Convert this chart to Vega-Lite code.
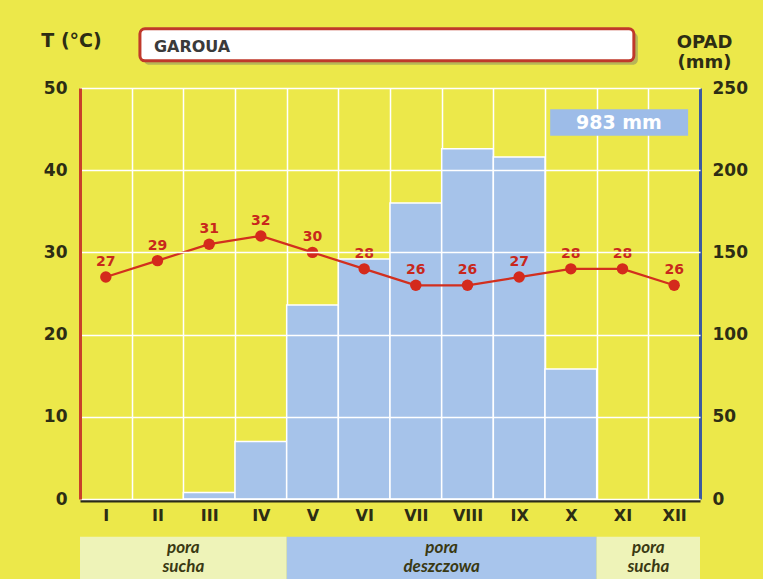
{
  "$schema": "https://vega.github.io/schema/vega-lite/v6.json",
  "width": 620,
  "height": 411,
  "autosize": {"type": "none"},
  "padding": {"left": 80, "top": 88, "right": 63, "bottom": 80},
  "background": "#ece84a",
  "config": {
    "view": {"stroke": null},
    "scale": {"bandPaddingInner": 0, "bandPaddingOuter": 0},
    "axis": {"labelFont": "DejaVu Sans", "labelFontWeight": "bold", "labelColor": "#2d2d14", "titleFont": "DejaVu Sans", "titleFontWeight": "bold", "titleColor": "#2d2d14", "ticks": false}
  },
  "datasets": {
    "months": [
      {"m": "I", "t": 27, "p": 0},
      {"m": "II", "t": 29, "p": 0},
      {"m": "III", "t": 31, "p": 4},
      {"m": "IV", "t": 32, "p": 35},
      {"m": "V", "t": 30, "p": 118},
      {"m": "VI", "t": 28, "p": 146},
      {"m": "VII", "t": 26, "p": 180},
      {"m": "VIII", "t": 26, "p": 213},
      {"m": "IX", "t": 27, "p": 208},
      {"m": "X", "t": 28, "p": 79},
      {"m": "XI", "t": 28, "p": 0},
      {"m": "XII", "t": 26, "p": 0}
    ],
    "notes": [{"station": "GAROUA", "total": "983 mm"}],
    "seasons": [
      {"from": "I", "to": "IV", "mid": "III", "kind": "sucha", "label": "pora\nsucha"},
      {"from": "V", "to": "X", "mid": "VIII", "kind": "deszczowa", "label": "pora\ndeszczowa"},
      {"from": "XI", "to": "XII", "mid": "XII", "kind": "sucha", "label": "pora\nsucha"}
    ]
  },
  "layer": [
    {
      "data": {"name": "months"},
      "transform": [{"filter": "datum.p > 0"}],
      "mark": {"type": "bar", "fill": "#a6c3ea", "stroke": "white", "strokeWidth": 1.5},
      "encoding": {
        "x": {"field": "m", "type": "nominal", "title": null,
          "scale": {"domain": ["I","II","III","IV","V","VI","VII","VIII","IX","X","XI","XII"]},
          "axis": {"orient": "bottom", "labelAngle": 0, "labelFontSize": 16, "labelPadding": 7, "tickBand": "extent", "grid": true, "gridColor": "white", "gridWidth": 1.5, "domainColor": "#2a2a18", "domainWidth": 3, "offset": 1.5, "zindex": 0}},
        "y": {"field": "p", "type": "quantitative",
          "scale": {"domain": [0, 250], "nice": false},
          "axis": {"orient": "right", "values": [0, 50, 100, 150, 200, 250], "grid": false, "domainColor": "#3c5aa0", "domainWidth": 3, "labelFontSize": 17, "labelPadding": 12, "title": ["OPAD", "(mm)"], "titleAngle": 0, "titleAlign": "center", "titleBaseline": "middle", "titleX": 4, "titleY": -46, "titleFontSize": 18, "titleLineHeight": 20}}
      }
    },
    {
      "layer": [
        {
          "data": {"name": "months"},
          "mark": {"type": "line", "color": "#d22f1e", "strokeWidth": 2.2},
          "encoding": {
            "x": {"field": "m", "type": "nominal", "title": null},
            "y": {"field": "t", "type": "quantitative",
              "scale": {"domain": [0, 50], "nice": false},
              "axis": {"orient": "left", "values": [0, 10, 20, 30, 40, 50], "grid": true, "gridColor": "white", "gridWidth": 1.5, "zindex": 1, "domainColor": "#c8402a", "domainWidth": 3, "labelFontSize": 17, "labelPadding": 13, "title": "T (°C)", "titleAngle": 0, "titleAlign": "center", "titleBaseline": "middle", "titleX": -9, "titleY": -48, "titleFontSize": 19}}
          }
        },
        {
          "data": {"name": "months"},
          "mark": {"type": "point", "filled": true, "size": 130, "color": "#d42a1c", "opacity": 1},
          "encoding": {
            "x": {"field": "m", "type": "nominal", "title": null},
            "y": {"field": "t", "type": "quantitative"}
          }
        },
        {
          "data": {"name": "months"},
          "mark": {"type": "text", "dy": -15, "color": "#c8281c", "font": "DejaVu Sans", "fontWeight": "bold", "fontSize": 14},
          "encoding": {
            "x": {"field": "m", "type": "nominal", "title": null},
            "y": {"field": "t", "type": "quantitative"},
            "text": {"field": "t", "type": "quantitative"}
          }
        },
        {
          "data": {"name": "notes"},
          "mark": {"type": "rect", "fill": "#9dbce8"},
          "encoding": {
            "x": {"datum": "X", "type": "nominal", "bandPosition": 0.1},
            "x2": {"datum": "XII", "bandPosition": 0.77},
            "y": {"datum": 47.4, "type": "quantitative"},
            "y2": {"datum": 44.2}
          }
        },
        {
          "data": {"name": "notes"},
          "mark": {"type": "text", "color": "white", "font": "DejaVu Sans", "fontWeight": "bold", "fontSize": 19, "baseline": "middle"},
          "encoding": {
            "x": {"datum": "XI", "type": "nominal", "bandPosition": 0.43},
            "y": {"datum": 45.8, "type": "quantitative"},
            "text": {"field": "total"}
          }
        },
        {
          "data": {"name": "notes"},
          "mark": {"type": "rect", "fill": "#8c8a62", "opacity": 0.55, "cornerRadius": 5, "xOffset": 4, "x2Offset": 4, "yOffset": 4, "y2Offset": 4},
          "encoding": {
            "x": {"datum": "II", "type": "nominal", "bandPosition": 0.16},
            "x2": {"datum": "XI", "bandPosition": 0.72},
            "y": {"datum": 57.2, "type": "quantitative"},
            "y2": {"datum": 53.3}
          }
        },
        {
          "data": {"name": "notes"},
          "mark": {"type": "rect", "fill": "white", "stroke": "#c0392b", "strokeWidth": 3, "cornerRadius": 5},
          "encoding": {
            "x": {"datum": "II", "type": "nominal", "bandPosition": 0.16},
            "x2": {"datum": "XI", "bandPosition": 0.72},
            "y": {"datum": 57.2, "type": "quantitative"},
            "y2": {"datum": 53.3}
          }
        },
        {
          "data": {"name": "notes"},
          "mark": {"type": "text", "align": "left", "baseline": "middle", "color": "#3a3a3a", "font": "DejaVu Sans", "fontWeight": "bold", "fontSize": 16},
          "encoding": {
            "x": {"datum": "II", "type": "nominal", "bandPosition": 0.43},
            "y": {"datum": 55.0, "type": "quantitative"},
            "text": {"field": "station"}
          }
        },
        {
          "data": {"name": "seasons"},
          "mark": {"type": "rect"},
          "encoding": {
            "x": {"field": "from", "type": "nominal", "bandPosition": 0, "title": null},
            "x2": {"field": "to", "bandPosition": 1},
            "y": {"datum": -4.6, "type": "quantitative"},
            "y2": {"datum": -11},
            "color": {"field": "kind", "type": "nominal", "scale": {"domain": ["sucha", "deszczowa"], "range": ["#eef3b8", "#a8c5ec"]}, "legend": null}
          }
        },
        {
          "data": {"name": "seasons"},
          "mark": {"type": "text", "lineBreak": "\n", "font": "Lato", "fontStyle": "italic", "fontWeight": "bold", "fontSize": 17, "color": "#3a3913", "lineHeight": 19, "baseline": "middle"},
          "encoding": {
            "x": {"field": "mid", "type": "nominal", "bandPosition": 0, "title": null},
            "y": {"datum": -5.95, "type": "quantitative"},
            "text": {"field": "label"}
          }
        }
      ]
    }
  ],
  "resolve": {"scale": {"y": "independent"}}
}
